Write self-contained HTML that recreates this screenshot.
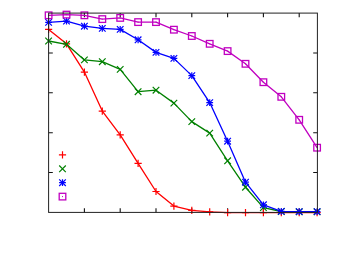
<!DOCTYPE html><html><head><meta charset="utf-8"><style>html,body{margin:0;padding:0;background:#fff;font-family:"Liberation Sans",sans-serif}</style></head><body><svg width="338" height="254" viewBox="0 0 338 254" style="display:block">
<rect width="338" height="254" fill="#fff"/>
<path d="M84.4 13.1v4.2M84.4 212.4v-4.2M120.2 13.1v4.2M120.2 212.4v-4.2M156.0 13.1v4.2M156.0 212.4v-4.2M191.8 13.1v4.2M191.8 212.4v-4.2M227.6 13.1v4.2M227.6 212.4v-4.2M263.4 13.1v4.2M263.4 212.4v-4.2M299.2 13.1v4.2M299.2 212.4v-4.2M48.6 53.0h4.2M317.4 53.0h-4.2M48.6 92.8h4.2M317.4 92.8h-4.2M48.6 132.7h4.2M317.4 132.7h-4.2M48.6 172.5h4.2M317.4 172.5h-4.2" stroke="#111" stroke-width="1.1" fill="none"/>
<polyline points="48.6,29.4 66.5,43.8 84.4,72.1 102.3,111.1 120.2,134.9 138.1,163.4 156.0,191.5 173.9,206.1 191.8,210.4 209.7,211.9 227.6,212.7 245.5,212.7 263.4,212.7 281.3,212.7 299.2,212.7 317.1,212.7" fill="none" stroke="#ff0000" stroke-width="1.3" stroke-linejoin="round"/>
<path d="M45.0 29.4H52.2M48.6 25.8V33.0" stroke="#ff0000" stroke-width="1.2" fill="none"/>
<path d="M62.9 43.8H70.1M66.5 40.2V47.4" stroke="#ff0000" stroke-width="1.2" fill="none"/>
<path d="M80.8 72.1H88.0M84.4 68.5V75.7" stroke="#ff0000" stroke-width="1.2" fill="none"/>
<path d="M98.7 111.1H105.9M102.3 107.5V114.7" stroke="#ff0000" stroke-width="1.2" fill="none"/>
<path d="M116.6 134.9H123.8M120.2 131.3V138.5" stroke="#ff0000" stroke-width="1.2" fill="none"/>
<path d="M134.5 163.4H141.7M138.1 159.8V167.0" stroke="#ff0000" stroke-width="1.2" fill="none"/>
<path d="M152.4 191.5H159.6M156.0 187.9V195.1" stroke="#ff0000" stroke-width="1.2" fill="none"/>
<path d="M170.3 206.1H177.5M173.9 202.5V209.7" stroke="#ff0000" stroke-width="1.2" fill="none"/>
<path d="M188.2 210.4H195.4M191.8 206.8V214.0" stroke="#ff0000" stroke-width="1.2" fill="none"/>
<path d="M206.1 211.9H213.3M209.7 208.3V215.5" stroke="#ff0000" stroke-width="1.2" fill="none"/>
<path d="M224.0 212.7H231.2M227.6 209.1V216.3" stroke="#ff0000" stroke-width="1.2" fill="none"/>
<path d="M241.9 212.7H249.1M245.5 209.1V216.3" stroke="#ff0000" stroke-width="1.2" fill="none"/>
<path d="M259.8 212.7H267.0M263.4 209.1V216.3" stroke="#ff0000" stroke-width="1.2" fill="none"/>
<path d="M277.7 212.7H284.9M281.3 209.1V216.3" stroke="#ff0000" stroke-width="1.2" fill="none"/>
<path d="M295.6 212.7H302.8M299.2 209.1V216.3" stroke="#ff0000" stroke-width="1.2" fill="none"/>
<path d="M313.5 212.7H320.7M317.1 209.1V216.3" stroke="#ff0000" stroke-width="1.2" fill="none"/>
<polyline points="48.6,41.0 66.5,44.3 84.4,59.9 102.3,61.7 120.2,69.4 138.1,91.7 156.0,90.2 173.9,103.1 191.8,121.6 209.7,133.1 227.6,160.8 245.5,187.2 263.4,207.6 281.3,211.5 299.2,211.8 317.1,211.8" fill="none" stroke="#008000" stroke-width="1.3" stroke-linejoin="round"/>
<path d="M45.3 37.7L51.9 44.3M45.3 44.3L51.9 37.7" stroke="#008000" stroke-width="1.2" fill="none"/>
<path d="M63.2 41.0L69.8 47.6M63.2 47.6L69.8 41.0" stroke="#008000" stroke-width="1.2" fill="none"/>
<path d="M81.1 56.6L87.7 63.2M81.1 63.2L87.7 56.6" stroke="#008000" stroke-width="1.2" fill="none"/>
<path d="M99.0 58.4L105.6 65.0M99.0 65.0L105.6 58.4" stroke="#008000" stroke-width="1.2" fill="none"/>
<path d="M116.9 66.1L123.5 72.7M116.9 72.7L123.5 66.1" stroke="#008000" stroke-width="1.2" fill="none"/>
<path d="M134.8 88.4L141.4 95.0M134.8 95.0L141.4 88.4" stroke="#008000" stroke-width="1.2" fill="none"/>
<path d="M152.7 86.9L159.3 93.5M152.7 93.5L159.3 86.9" stroke="#008000" stroke-width="1.2" fill="none"/>
<path d="M170.6 99.8L177.2 106.4M170.6 106.4L177.2 99.8" stroke="#008000" stroke-width="1.2" fill="none"/>
<path d="M188.5 118.3L195.1 124.9M188.5 124.9L195.1 118.3" stroke="#008000" stroke-width="1.2" fill="none"/>
<path d="M206.4 129.8L213.0 136.4M206.4 136.4L213.0 129.8" stroke="#008000" stroke-width="1.2" fill="none"/>
<path d="M224.3 157.5L230.9 164.1M224.3 164.1L230.9 157.5" stroke="#008000" stroke-width="1.2" fill="none"/>
<path d="M242.2 183.9L248.8 190.5M242.2 190.5L248.8 183.9" stroke="#008000" stroke-width="1.2" fill="none"/>
<path d="M260.1 204.3L266.7 210.9M260.1 210.9L266.7 204.3" stroke="#008000" stroke-width="1.2" fill="none"/>
<path d="M278.0 208.2L284.6 214.8M278.0 214.8L284.6 208.2" stroke="#008000" stroke-width="1.2" fill="none"/>
<path d="M295.9 208.5L302.5 215.1M295.9 215.1L302.5 208.5" stroke="#008000" stroke-width="1.2" fill="none"/>
<path d="M313.8 208.5L320.4 215.1M313.8 215.1L320.4 208.5" stroke="#008000" stroke-width="1.2" fill="none"/>
<polyline points="48.6,22.4 66.5,21.1 84.4,26.2 102.3,28.4 120.2,29.4 138.1,39.8 156.0,52.4 173.9,58.4 191.8,75.6 209.7,102.6 227.6,141.2 245.5,182.2 263.4,204.8 281.3,211.4 299.2,211.6 317.1,211.6" fill="none" stroke="#0000ff" stroke-width="1.3" stroke-linejoin="round"/>
<path d="M45.2 22.4H52.0M48.6 19.0V25.8" stroke="#0000ff" stroke-width="1.2" fill="none"/><path d="M45.3 19.1L51.9 25.7M45.3 25.7L51.9 19.1" stroke="#0000ff" stroke-width="1.2" fill="none"/>
<path d="M63.1 21.1H69.9M66.5 17.7V24.5" stroke="#0000ff" stroke-width="1.2" fill="none"/><path d="M63.2 17.8L69.8 24.4M63.2 24.4L69.8 17.8" stroke="#0000ff" stroke-width="1.2" fill="none"/>
<path d="M81.0 26.2H87.8M84.4 22.8V29.6" stroke="#0000ff" stroke-width="1.2" fill="none"/><path d="M81.1 22.9L87.7 29.5M81.1 29.5L87.7 22.9" stroke="#0000ff" stroke-width="1.2" fill="none"/>
<path d="M98.9 28.4H105.7M102.3 25.0V31.8" stroke="#0000ff" stroke-width="1.2" fill="none"/><path d="M99.0 25.1L105.6 31.7M99.0 31.7L105.6 25.1" stroke="#0000ff" stroke-width="1.2" fill="none"/>
<path d="M116.8 29.4H123.6M120.2 26.0V32.8" stroke="#0000ff" stroke-width="1.2" fill="none"/><path d="M116.9 26.1L123.5 32.7M116.9 32.7L123.5 26.1" stroke="#0000ff" stroke-width="1.2" fill="none"/>
<path d="M134.7 39.8H141.5M138.1 36.4V43.2" stroke="#0000ff" stroke-width="1.2" fill="none"/><path d="M134.8 36.5L141.4 43.1M134.8 43.1L141.4 36.5" stroke="#0000ff" stroke-width="1.2" fill="none"/>
<path d="M152.6 52.4H159.4M156.0 49.0V55.8" stroke="#0000ff" stroke-width="1.2" fill="none"/><path d="M152.7 49.1L159.3 55.7M152.7 55.7L159.3 49.1" stroke="#0000ff" stroke-width="1.2" fill="none"/>
<path d="M170.5 58.4H177.3M173.9 55.0V61.8" stroke="#0000ff" stroke-width="1.2" fill="none"/><path d="M170.6 55.1L177.2 61.7M170.6 61.7L177.2 55.1" stroke="#0000ff" stroke-width="1.2" fill="none"/>
<path d="M188.4 75.6H195.2M191.8 72.2V79.0" stroke="#0000ff" stroke-width="1.2" fill="none"/><path d="M188.5 72.3L195.1 78.9M188.5 78.9L195.1 72.3" stroke="#0000ff" stroke-width="1.2" fill="none"/>
<path d="M206.3 102.6H213.1M209.7 99.2V106.0" stroke="#0000ff" stroke-width="1.2" fill="none"/><path d="M206.4 99.3L213.0 105.9M206.4 105.9L213.0 99.3" stroke="#0000ff" stroke-width="1.2" fill="none"/>
<path d="M224.2 141.2H231.0M227.6 137.8V144.6" stroke="#0000ff" stroke-width="1.2" fill="none"/><path d="M224.3 137.9L230.9 144.5M224.3 144.5L230.9 137.9" stroke="#0000ff" stroke-width="1.2" fill="none"/>
<path d="M242.1 182.2H248.9M245.5 178.8V185.6" stroke="#0000ff" stroke-width="1.2" fill="none"/><path d="M242.2 178.9L248.8 185.5M242.2 185.5L248.8 178.9" stroke="#0000ff" stroke-width="1.2" fill="none"/>
<path d="M260.0 204.8H266.8M263.4 201.4V208.2" stroke="#0000ff" stroke-width="1.2" fill="none"/><path d="M260.1 201.5L266.7 208.1M260.1 208.1L266.7 201.5" stroke="#0000ff" stroke-width="1.2" fill="none"/>
<path d="M277.9 211.4H284.7M281.3 208.0V214.8" stroke="#0000ff" stroke-width="1.2" fill="none"/><path d="M278.0 208.1L284.6 214.7M278.0 214.7L284.6 208.1" stroke="#0000ff" stroke-width="1.2" fill="none"/>
<path d="M295.8 211.6H302.6M299.2 208.2V215.0" stroke="#0000ff" stroke-width="1.2" fill="none"/><path d="M295.9 208.3L302.5 214.9M295.9 214.9L302.5 208.3" stroke="#0000ff" stroke-width="1.2" fill="none"/>
<path d="M313.7 211.6H320.5M317.1 208.2V215.0" stroke="#0000ff" stroke-width="1.2" fill="none"/><path d="M313.8 208.3L320.4 214.9M313.8 214.9L320.4 208.3" stroke="#0000ff" stroke-width="1.2" fill="none"/>
<polyline points="48.6,15.3 66.5,14.6 84.4,15.3 102.3,19.1 120.2,17.9 138.1,22.1 156.0,22.1 173.9,29.7 191.8,36.0 209.7,43.8 227.6,51.1 245.5,63.8 263.4,82.2 281.3,96.8 299.2,119.8 317.1,147.7" fill="none" stroke="#c000c0" stroke-width="1.3" stroke-linejoin="round"/>
<rect x="45.3" y="12.0" width="6.6" height="6.6" stroke="#c000c0" stroke-width="1.3" fill="none"/><rect x="48.1" y="14.8" width="1" height="1" fill="#c000c0"/>
<rect x="63.2" y="11.3" width="6.6" height="6.6" stroke="#c000c0" stroke-width="1.3" fill="none"/><rect x="66.0" y="14.1" width="1" height="1" fill="#c000c0"/>
<rect x="81.1" y="12.0" width="6.6" height="6.6" stroke="#c000c0" stroke-width="1.3" fill="none"/><rect x="83.9" y="14.8" width="1" height="1" fill="#c000c0"/>
<rect x="99.0" y="15.8" width="6.6" height="6.6" stroke="#c000c0" stroke-width="1.3" fill="none"/><rect x="101.8" y="18.6" width="1" height="1" fill="#c000c0"/>
<rect x="116.9" y="14.6" width="6.6" height="6.6" stroke="#c000c0" stroke-width="1.3" fill="none"/><rect x="119.7" y="17.4" width="1" height="1" fill="#c000c0"/>
<rect x="134.8" y="18.8" width="6.6" height="6.6" stroke="#c000c0" stroke-width="1.3" fill="none"/><rect x="137.6" y="21.6" width="1" height="1" fill="#c000c0"/>
<rect x="152.7" y="18.8" width="6.6" height="6.6" stroke="#c000c0" stroke-width="1.3" fill="none"/><rect x="155.5" y="21.6" width="1" height="1" fill="#c000c0"/>
<rect x="170.6" y="26.4" width="6.6" height="6.6" stroke="#c000c0" stroke-width="1.3" fill="none"/><rect x="173.4" y="29.2" width="1" height="1" fill="#c000c0"/>
<rect x="188.5" y="32.7" width="6.6" height="6.6" stroke="#c000c0" stroke-width="1.3" fill="none"/><rect x="191.3" y="35.5" width="1" height="1" fill="#c000c0"/>
<rect x="206.4" y="40.5" width="6.6" height="6.6" stroke="#c000c0" stroke-width="1.3" fill="none"/><rect x="209.2" y="43.3" width="1" height="1" fill="#c000c0"/>
<rect x="224.3" y="47.8" width="6.6" height="6.6" stroke="#c000c0" stroke-width="1.3" fill="none"/><rect x="227.1" y="50.6" width="1" height="1" fill="#c000c0"/>
<rect x="242.2" y="60.5" width="6.6" height="6.6" stroke="#c000c0" stroke-width="1.3" fill="none"/><rect x="245.0" y="63.3" width="1" height="1" fill="#c000c0"/>
<rect x="260.1" y="78.9" width="6.6" height="6.6" stroke="#c000c0" stroke-width="1.3" fill="none"/><rect x="262.9" y="81.7" width="1" height="1" fill="#c000c0"/>
<rect x="278.0" y="93.5" width="6.6" height="6.6" stroke="#c000c0" stroke-width="1.3" fill="none"/><rect x="280.8" y="96.3" width="1" height="1" fill="#c000c0"/>
<rect x="295.9" y="116.5" width="6.6" height="6.6" stroke="#c000c0" stroke-width="1.3" fill="none"/><rect x="298.7" y="119.3" width="1" height="1" fill="#c000c0"/>
<rect x="313.8" y="144.4" width="6.6" height="6.6" stroke="#c000c0" stroke-width="1.3" fill="none"/><rect x="316.6" y="147.2" width="1" height="1" fill="#c000c0"/>
<path d="M58.9 154.9H66.1M62.5 151.3V158.5" stroke="#ff0000" stroke-width="1.2" fill="none"/>
<path d="M59.2 165.5L65.8 172.1M59.2 172.1L65.8 165.5" stroke="#008000" stroke-width="1.2" fill="none"/>
<path d="M59.1 182.7H65.9M62.5 179.3V186.1" stroke="#0000ff" stroke-width="1.2" fill="none"/><path d="M59.2 179.4L65.8 186.0M59.2 186.0L65.8 179.4" stroke="#0000ff" stroke-width="1.2" fill="none"/>
<rect x="59.2" y="193.3" width="6.6" height="6.6" stroke="#c000c0" stroke-width="1.3" fill="none"/><rect x="62.0" y="196.1" width="1" height="1" fill="#c000c0"/>
<rect x="48.6" y="13.1" width="268.8" height="199.3" fill="none" stroke="#222" stroke-width="1"/>
</svg></body></html>
